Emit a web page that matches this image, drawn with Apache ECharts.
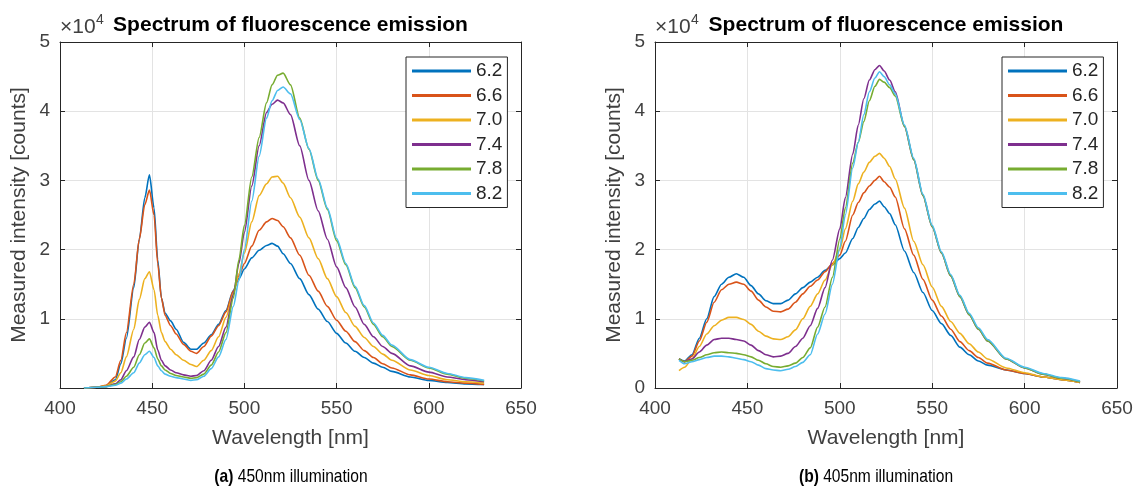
<!DOCTYPE html>
<html>
<head>
<meta charset="utf-8">
<script src="https://cdn.jsdelivr.net/npm/echarts@6/dist/echarts.min.js"></script>
<style>
html,body{margin:0;padding:0;background:#fff;}
#chart{width:1139px;height:488px;}
</style>
</head>
<body>
<div id="chart"></div>
<script>
// ---------- DATA (intensity in units of 10^4 counts) ----------
const seriesNames = ['6.2', '6.6', '7.0', '7.4', '7.8', '8.2'];
const xTicks = [400, 450, 500, 550, 600, 650];
const yTicks = [0, 1, 2, 3, 4, 5];

// (a) 450nm illumination
const wlA = [413,420,425,430,433,436,440,443,446,448.5,451,453,455,457,460,463,467,471,474,478,482,486,490,494,497,500,504,508,512,515,518,521,525,530,535,540,545,550,555,560,565,570,575,580,590,600,610,620,630];
const a62 = [0.00,0.01,0.03,0.12,0.35,0.72,1.45,2.15,2.75,3.08,2.60,1.85,1.30,1.08,0.97,0.85,0.66,0.56,0.56,0.65,0.77,0.92,1.12,1.41,1.58,1.72,1.88,1.99,2.06,2.09,2.05,1.94,1.80,1.58,1.35,1.14,0.96,0.79,0.65,0.53,0.44,0.36,0.30,0.24,0.16,0.11,0.08,0.06,0.05];
const a66 = [0.00,0.01,0.04,0.16,0.40,0.80,1.50,2.15,2.65,2.86,2.50,1.80,1.30,1.05,0.90,0.78,0.63,0.53,0.50,0.60,0.75,0.90,1.10,1.40,1.62,1.80,2.05,2.28,2.40,2.45,2.42,2.33,2.17,1.92,1.63,1.40,1.18,0.98,0.82,0.67,0.54,0.44,0.35,0.29,0.19,0.13,0.09,0.07,0.05];
const a70 = [0.00,0.01,0.03,0.10,0.22,0.45,0.85,1.28,1.58,1.68,1.42,1.05,0.80,0.67,0.56,0.48,0.40,0.34,0.31,0.40,0.54,0.74,1.02,1.36,1.65,1.95,2.40,2.78,2.95,3.05,3.06,2.96,2.75,2.47,2.17,1.87,1.58,1.32,1.09,0.89,0.73,0.60,0.49,0.40,0.26,0.18,0.12,0.09,0.07];
const a74 = [0.00,0.01,0.02,0.06,0.12,0.25,0.45,0.70,0.88,0.95,0.80,0.55,0.40,0.32,0.26,0.22,0.19,0.17,0.18,0.25,0.40,0.60,0.88,1.35,1.80,2.25,2.92,3.50,3.98,4.10,4.16,4.12,3.95,3.50,3.00,2.56,2.15,1.75,1.45,1.17,0.92,0.74,0.60,0.50,0.32,0.23,0.16,0.12,0.09];
const a78 = [0.00,0.01,0.02,0.05,0.09,0.17,0.30,0.48,0.65,0.71,0.58,0.42,0.32,0.26,0.21,0.18,0.16,0.14,0.15,0.20,0.33,0.52,0.80,1.30,1.85,2.35,3.05,3.62,4.12,4.38,4.52,4.55,4.38,3.90,3.45,3.00,2.58,2.13,1.78,1.45,1.17,0.92,0.74,0.60,0.40,0.29,0.20,0.14,0.10];
const a82 = [0.00,0.01,0.02,0.04,0.07,0.13,0.22,0.36,0.48,0.53,0.44,0.32,0.25,0.20,0.17,0.15,0.13,0.11,0.12,0.17,0.28,0.45,0.70,1.18,1.55,2.00,2.70,3.35,3.90,4.15,4.30,4.35,4.25,3.88,3.46,3.02,2.60,2.16,1.80,1.47,1.19,0.94,0.76,0.62,0.41,0.30,0.21,0.15,0.11];

// (b) 405nm illumination
const wlB = [413,416,420,424,428,432,436,440,444,448,452,456,460,464,468,472,476,480,484,488,492,496,500,503,507,510,513,516,519,521.5,524,527,530,535,540,545,550,555,560,565,570,575,580,590,600,610,620,630];
const b62 = [0.42,0.39,0.48,0.72,1.00,1.32,1.50,1.60,1.65,1.60,1.48,1.36,1.26,1.22,1.22,1.27,1.36,1.45,1.53,1.60,1.70,1.78,1.87,1.95,2.16,2.32,2.45,2.58,2.66,2.70,2.62,2.52,2.36,1.98,1.67,1.38,1.12,0.93,0.76,0.59,0.48,0.39,0.33,0.26,0.21,0.16,0.12,0.08];
const b66 = [0.42,0.38,0.46,0.68,0.95,1.24,1.42,1.50,1.53,1.50,1.40,1.27,1.17,1.11,1.10,1.14,1.24,1.36,1.47,1.56,1.68,1.80,1.92,2.12,2.50,2.68,2.82,2.92,3.00,3.06,2.98,2.90,2.76,2.30,1.92,1.57,1.27,1.04,0.85,0.67,0.54,0.44,0.36,0.26,0.21,0.16,0.12,0.08];
const b70 = [0.25,0.30,0.42,0.60,0.78,0.90,0.98,1.02,1.02,0.99,0.92,0.82,0.75,0.71,0.70,0.74,0.84,1.00,1.18,1.36,1.56,1.78,2.00,2.30,2.70,2.95,3.12,3.26,3.35,3.39,3.32,3.20,3.02,2.60,2.12,1.78,1.46,1.18,0.96,0.79,0.64,0.52,0.42,0.29,0.22,0.16,0.12,0.08];
const b74 = [0.42,0.38,0.42,0.52,0.62,0.70,0.72,0.72,0.70,0.68,0.62,0.54,0.48,0.45,0.46,0.50,0.60,0.72,0.90,1.15,1.45,1.85,2.30,2.75,3.38,3.80,4.18,4.45,4.60,4.66,4.58,4.45,4.28,3.78,3.30,2.78,2.33,1.95,1.62,1.32,1.06,0.85,0.68,0.42,0.29,0.20,0.14,0.09];
const b78 = [0.42,0.38,0.40,0.44,0.48,0.51,0.52,0.51,0.50,0.48,0.45,0.40,0.35,0.31,0.30,0.32,0.36,0.44,0.58,0.88,1.17,1.60,2.15,2.60,3.25,3.55,3.85,4.15,4.36,4.46,4.42,4.34,4.22,3.78,3.30,2.78,2.33,1.95,1.62,1.32,1.06,0.85,0.68,0.42,0.29,0.20,0.14,0.09];
const b82 = [0.40,0.35,0.38,0.41,0.44,0.46,0.46,0.45,0.43,0.41,0.38,0.33,0.28,0.26,0.25,0.27,0.31,0.37,0.48,0.78,1.07,1.50,2.02,2.50,3.18,3.55,3.95,4.28,4.48,4.57,4.50,4.38,4.25,3.80,3.32,2.80,2.35,1.97,1.64,1.34,1.08,0.87,0.70,0.43,0.30,0.21,0.15,0.10];

// ---------- STYLE ----------
const colors = ['#0072BD', '#D95319', '#EDB120', '#7E2F8E', '#77AC30', '#4DBEEE'];
const FONT = "'Liberation Sans', Arial, Helvetica, sans-serif";
const AX = '#262626';
const TXT = '#404040';
const GRIDC = '#e3e3e3';

const panels = [
  {wl: wlA, vals: [a62, a66, a70, a74, a78, a82], grid: {left: 60, top: 42, width: 461, height: 346}, showZero: false,
   legend: {left: 406, top: 57}, caption: '{b|(a)} 450nm illumination', capX: 291},
  {wl: wlB, vals: [b62, b66, b70, b74, b78, b82], grid: {left: 655, top: 42, width: 462, height: 346}, showZero: true,
   legend: {left: 1002, top: 57}, caption: '{b|(b)} 405nm illumination', capX: 876}
];

const grids = [], xAxes = [], yAxes = [], series = [], legends = [], graphics = [];

panels.forEach((p, pi) => {
  grids.push(Object.assign({containLabel: false, show: false}, p.grid));
  const xi = xAxes.length, yi = yAxes.length;
  xAxes.push({
    gridIndex: pi, type: 'value', min: xTicks[0], max: xTicks[xTicks.length - 1], interval: 50,
    position: 'bottom',
    axisLine: {show: true, onZero: false, lineStyle: {color: AX, width: 1}},
    axisTick: {show: true, inside: true, length: 5, lineStyle: {color: AX}},
    axisLabel: {fontSize: 19, color: TXT, fontFamily: FONT, margin: 11},
    splitLine: {show: true, lineStyle: {color: GRIDC, width: 1}},
    name: 'Wavelength [nm]', nameLocation: 'middle', nameGap: 40,
    nameTextStyle: {fontSize: 21, color: TXT, fontFamily: FONT}
  });
  xAxes.push({
    gridIndex: pi, type: 'value', min: xTicks[0], max: xTicks[xTicks.length - 1], interval: 50,
    position: 'top',
    axisLine: {show: true, onZero: false, lineStyle: {color: AX, width: 1}},
    axisTick: {show: true, inside: true, length: 5, lineStyle: {color: AX}},
    axisLabel: {show: false}, splitLine: {show: false}
  });
  yAxes.push({
    gridIndex: pi, type: 'value', min: yTicks[0], max: yTicks[yTicks.length - 1], interval: 1,
    position: 'left',
    axisLine: {show: true, onZero: false, lineStyle: {color: AX, width: 1}},
    axisTick: {show: true, inside: true, length: 5, lineStyle: {color: AX}},
    axisLabel: {fontSize: 19, color: TXT, fontFamily: FONT, margin: 10,
      formatter: v => (v === 0 && !p.showZero) ? '' : String(v)},
    splitLine: {show: true, lineStyle: {color: GRIDC, width: 1}},
    name: 'Measured intensity [counts]', nameLocation: 'middle', nameGap: 30,
    nameTextStyle: {fontSize: 21, color: TXT, fontFamily: FONT}
  });
  yAxes.push({
    gridIndex: pi, type: 'value', min: yTicks[0], max: yTicks[yTicks.length - 1], interval: 1,
    position: 'right',
    axisLine: {show: true, onZero: false, lineStyle: {color: AX, width: 1}},
    axisTick: {show: true, inside: true, length: 5, lineStyle: {color: AX}},
    axisLabel: {show: false}, splitLine: {show: false}
  });
  p.vals.forEach((arr, si) => {
    series.push({
      type: 'line', name: seriesNames[si], xAxisIndex: xi, yAxisIndex: yi,
      data: p.wl.map((w, i) => [w, arr[i]]),
      showSymbol: false, symbol: 'none', smooth: 0.25, smoothMonotone: 'x',
      lineStyle: {color: colors[si], width: 1.6}, itemStyle: {color: colors[si]},
      z: 2 + si
    });
  });
  legends.push({
    left: p.legend.left, top: p.legend.top, orient: 'vertical',
    data: seriesNames, icon: 'rect', itemWidth: 59, itemHeight: 3, itemGap: 4.5,
    padding: [4, 5, 4, 6], borderColor: AX, borderWidth: 1, backgroundColor: '#fff',
    textStyle: {fontSize: 19, color: AX, fontFamily: FONT, lineHeight: 20},
    selectedMode: false
  });
  const cx = p.grid.left + p.grid.width / 2;
  graphics.push({
    type: 'text', x: cx, y: 25, z: 10,
    style: {text: 'Spectrum of fluorescence emission', fill: '#000', font: 'bold 21px ' + FONT,
      textAlign: 'center', textVerticalAlign: 'middle'}
  });
  graphics.push({
    type: 'text', x: p.grid.left, y: 27, z: 10,
    style: {text: '×10', fill: TXT, font: '21px ' + FONT, textAlign: 'left', textVerticalAlign: 'middle'}
  });
  graphics.push({
    type: 'text', x: p.grid.left + 36, y: 20, z: 10,
    style: {text: '4', fill: TXT, font: '14px ' + FONT, textAlign: 'left', textVerticalAlign: 'middle'}
  });
  graphics.push({
    type: 'text', x: p.capX, y: 477, z: 10, scaleX: 0.82, originX: 0, originY: 0,
    style: {text: p.caption, fill: '#000', font: '19px ' + FONT, textAlign: 'center', textVerticalAlign: 'middle',
      rich: {b: {fontWeight: 'bold', fontSize: 19, fontFamily: FONT, fill: '#000'}}}
  });
});

const chart = echarts.init(document.getElementById('chart'), null, {renderer: 'canvas'});
chart.setOption({
  animation: false,
  backgroundColor: '#fff',
  grid: grids, xAxis: xAxes, yAxis: yAxes, series: series, legend: legends,
  graphic: graphics
});
</script>
</body>
</html>
